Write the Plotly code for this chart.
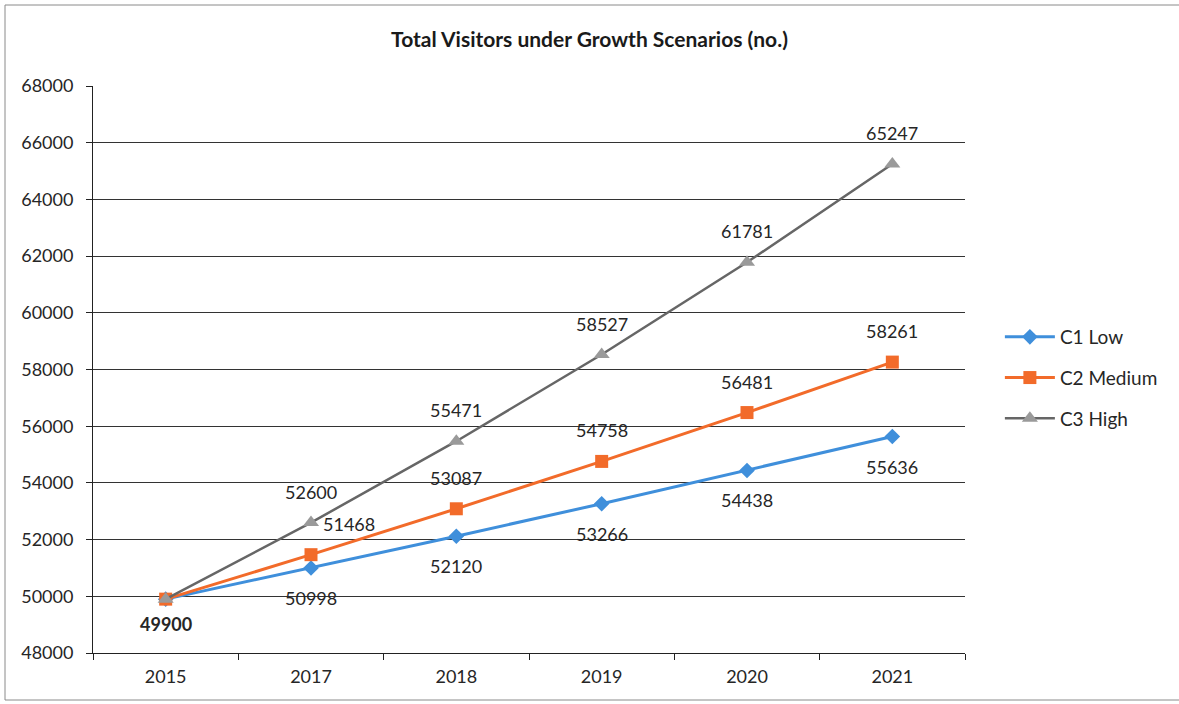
import plotly.graph_objects as go

years = ["2015", "2017", "2018", "2019", "2020", "2021"]
c1_low = [49900, 50998, 52120, 53266, 54438, 55636]
c2_medium = [49900, 51468, 53087, 54758, 56481, 58261]
c3_high = [49900, 52600, 55471, 58527, 61781, 65247]

FONT = "Lato, 'Open Sans', sans-serif"
TXT = "#262626"
LBL = 18

fig = go.Figure()

series = [
    ("C1 Low", c1_low, "#3F8FDB", "diamond", 12),
    ("C2 Medium", c2_medium, "#F26B2A", "square", 13),
    ("C3 High", c3_high, "#9A9A9A", "triangle-up", 14),
]
for name, vals, col, sym, msz in series:
    line_col = "#666666" if name == "C3 High" else col
    fig.add_trace(go.Scatter(
        x=years, y=vals, name=name, mode="lines+markers",
        line=dict(color=line_col, width=3 if name != "C3 High" else 2.5),
        marker=dict(symbol=sym, size=msz, color=col),
        legendgroup=name,
    ))

# data labels (x given as category index): C1 below the points, C2 and C3 above
annotations = []
for i, v in enumerate(c1_low):
    annotations.append(dict(
        x=i, y=v, xref="x", yref="y",
        text=f"<b>{v}</b>" if i == 0 else str(v),
        showarrow=False, yshift=-25 if i == 0 else -30,
        font=dict(size=LBL, color=TXT, family=FONT)))
for i, v in enumerate(c2_medium):
    if i == 0:
        continue
    annotations.append(dict(
        x=i, y=v, xref="x", yref="y", text=str(v), showarrow=False,
        yshift=31, xshift=38 if i == 1 else 0,
        font=dict(size=LBL, color=TXT, family=FONT)))
for i, v in enumerate(c3_high):
    if i == 0:
        continue
    annotations.append(dict(
        x=i, y=v, xref="x", yref="y", text=str(v), showarrow=False,
        yshift=31,
        font=dict(size=LBL, color=TXT, family=FONT)))

fig.update_layout(
    width=1179, height=704,
    margin=dict(l=93, r=214, t=86, b=51),
    paper_bgcolor="white", plot_bgcolor="white",
    font=dict(family=FONT, color=TXT, size=LBL),
    title=dict(text="<b>Total Visitors under Growth Scenarios (no.)</b>",
               x=0.5, xref="container", xanchor="center",
               y=1 - 40 / 704, yref="container", yanchor="middle",
               font=dict(size=21, color="#1a1a1a", family=FONT)),
    showlegend=True,
    legend=dict(x=1.04, xanchor="left", y=0.485, yanchor="middle",
                font=dict(size=19, color=TXT, family=FONT),
                tracegroupgap=13, itemwidth=50,
                bgcolor="rgba(0,0,0,0)"),
    annotations=annotations,
    shapes=[dict(type="rect", xref="paper", yref="paper",
                 x0=(5 - 93) / 872, x1=(1190 - 93) / 872,
                 y0=(653 - 700) / 567, y1=(653 - 5) / 567,
                 line=dict(color="#8A8A8A", width=1), layer="below")],
)

fig.update_xaxes(
    type="category", range=[-0.5, 5.5], tickson="boundaries",
    ticks="outside", ticklen=6, tickcolor="#222", tickwidth=1,
    showline=True, linecolor="#222", linewidth=1,
    showgrid=False, tickfont=dict(size=LBL, color=TXT),
    ticklabelstandoff=7,
)
fig.update_yaxes(
    range=[48000, 68000], dtick=2000, tickformat="d",
    ticks="outside", ticklen=6, tickcolor="#222",
    showline=True, linecolor="#222", linewidth=1,
    showgrid=True, gridcolor="#333333", gridwidth=1,
    tickfont=dict(size=LBL, color=TXT), zeroline=False,
    ticklabelstandoff=9,
)

fig.write_html("out.html")
